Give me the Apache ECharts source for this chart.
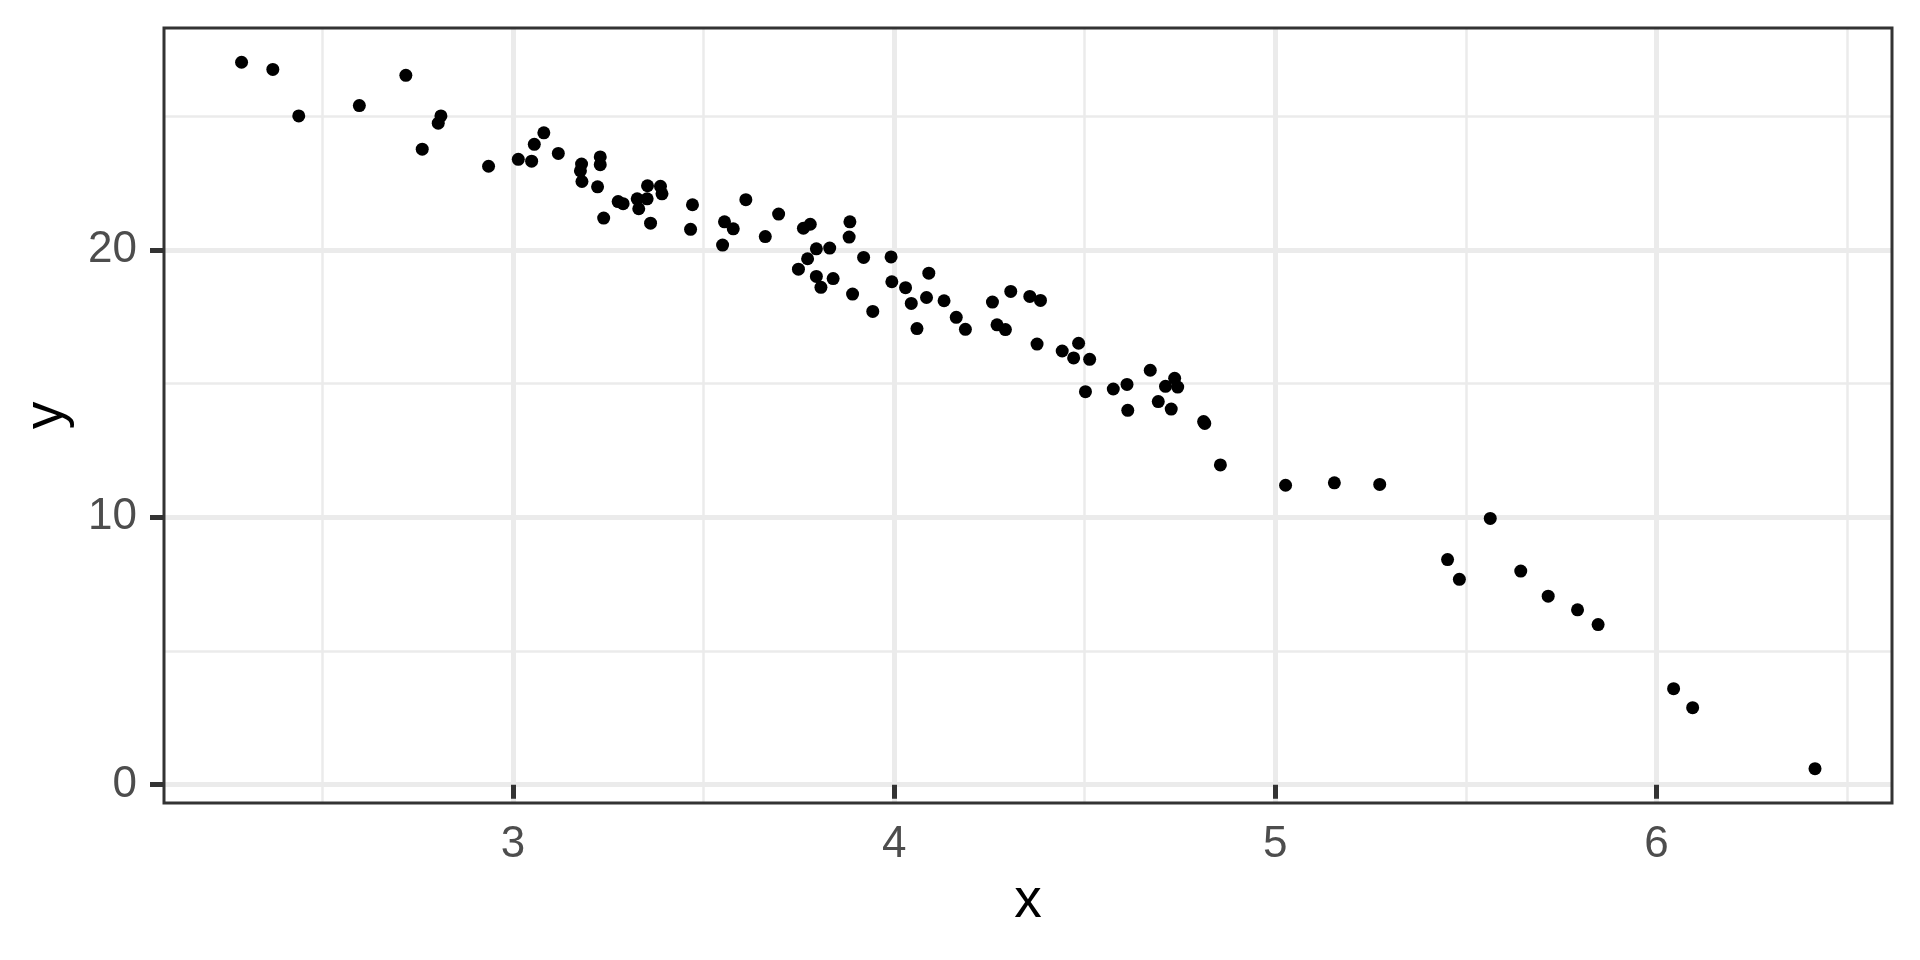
<!DOCTYPE html>
<html>
<head>
<meta charset="utf-8">
<title>y vs x</title>
<script src="https://cdn.jsdelivr.net/npm/echarts@6/dist/echarts.min.js"></script>
<style>
  html, body { margin: 0; padding: 0; background: #fff; }
  #chart { width: 1920px; height: 960px; }
</style>
</head>
<body>
<div id="chart"></div>
<script>
  // values
  var xValues = [
    2.288, 2.370, 2.438, 2.597, 2.719, 2.811, 2.804, 2.762, 2.936, 3.014,
    3.056, 3.049, 3.081, 3.119, 3.180, 3.177, 3.181, 3.229, 3.229, 3.222,
    3.238, 3.276, 3.289, 3.326, 3.330, 3.352, 3.353, 3.361, 3.387, 3.391,
    3.471, 3.466, 3.611, 3.555, 3.578, 3.550, 3.662, 3.697, 3.762, 3.780,
    3.884, 3.882, 3.796, 3.831, 3.773, 3.749, 3.796, 3.840, 3.808, 3.920,
    3.992, 3.994, 3.891, 3.944, 4.030, 4.091, 4.045, 4.085, 4.131, 4.060,
    4.163, 4.187, 4.258, 4.306, 4.270, 4.292, 4.356, 4.384, 4.375, 4.441,
    4.484, 4.471, 4.513, 4.502, 4.575, 4.611, 4.672, 4.736, 4.712, 4.744,
    4.613, 4.693, 4.727, 4.812, 4.815, 4.856, 5.027, 5.155, 5.274, 5.564,
    5.452, 5.483, 5.644, 5.716, 5.793, 5.847, 6.045, 6.095, 6.416
  ];
  var yValues = [
    27.02, 26.75, 25.01, 25.40, 26.53, 25.01, 24.74, 23.77, 23.13, 23.39,
    23.95, 23.32, 24.38, 23.61, 23.21, 22.96, 22.56, 23.48, 23.19, 22.36,
    21.19, 21.81, 21.73, 21.91, 21.54, 21.91, 22.40, 21.00, 22.38, 22.10,
    21.69, 20.77, 21.88, 21.05, 20.79, 20.18, 20.50, 21.34, 20.81, 20.96,
    21.05, 20.48, 20.04, 20.07, 19.67, 19.28, 19.01, 18.93, 18.60, 19.72,
    19.74, 18.81, 18.35, 17.70, 18.59, 19.13, 18.00, 18.22, 18.10, 17.06,
    17.48, 17.03, 18.05, 18.45, 17.20, 17.02, 18.26, 18.11, 16.48, 16.22,
    16.51, 15.96, 15.91, 14.70, 14.80, 14.97, 15.50, 15.20, 14.90, 14.87,
    14.00, 14.33, 14.05, 13.58, 13.51, 11.96, 11.20, 11.29, 11.23, 9.96,
    8.42, 7.68, 7.99, 7.05, 6.54, 5.99, 3.59, 2.88, 0.60
  ];
  var xTicks = [3, 4, 5, 6];
  var yTicks = [0, 10, 20];
  var xMinor = [2.5, 3.5, 4.5, 5.5, 6.5];
  var yMinor = [5, 15, 25];

  var points = [];
  for (var i = 0; i < xValues.length; i++) {
    points.push([xValues[i], yValues[i]]);
  }

  var font = '"Liberation Sans", Arial, sans-serif';
  var xRange = [2.0845, 6.618];
  var yRange = [-0.684, 28.30];
  var chart = echarts.init(document.getElementById('chart'));

  // hidden axis that only carries the thin minor grid lines
  function minorAxis(range, values) {
    return {
      type: 'value',
      min: range[0],
      max: range[1],
      axisLine: { show: false },
      axisTick: { show: false, customValues: values },
      axisLabel: { show: false, customValues: values },
      splitLine: { show: true, lineStyle: { color: '#ebebeb', width: 2.5 } }
    };
  }

  var option = {
    backgroundColor: '#ffffff',
    animation: false,
    grid: {
      left: 164,
      right: 28,
      top: 28,
      bottom: 157,
      show: true,
      backgroundColor: 'transparent',
      borderColor: '#333333',
      borderWidth: 3,
      z: 5
    },
    xAxis: [{
      type: 'value',
      min: xRange[0],
      max: xRange[1],
      name: 'x',
      nameLocation: 'middle',
      nameGap: 71,
      nameTextStyle: { color: '#000', fontSize: 55, fontFamily: font },
      axisLine: { show: false },
      axisTick: { show: true, length: 14, customValues: xTicks, lineStyle: { color: '#333333', width: 5 } },
      axisLabel: { customValues: xTicks, margin: 20, color: '#4d4d4d', fontSize: 44, fontFamily: font },
      splitLine: { show: true, lineStyle: { color: '#ebebeb', width: 5 } }
    }, minorAxis(xRange, xMinor)],
    yAxis: [{
      type: 'value',
      min: yRange[0],
      max: yRange[1],
      name: 'y',
      nameLocation: 'middle',
      nameGap: 90,
      nameTextStyle: { color: '#000', fontSize: 55, fontFamily: font },
      axisLine: { show: false },
      axisTick: { show: true, length: 14, customValues: yTicks, lineStyle: { color: '#333333', width: 5 } },
      axisLabel: { customValues: yTicks, margin: 27, color: '#4d4d4d', fontSize: 44, fontFamily: font },
      splitLine: { show: true, lineStyle: { color: '#ebebeb', width: 5 } }
    }, minorAxis(yRange, yMinor)],
    series: [{
      type: 'scatter',
      data: points,
      symbol: 'circle',
      symbolSize: 13,
      itemStyle: { color: '#000000', opacity: 1 }
    }]
  };

  chart.setOption(option);
</script>
</body>
</html>
